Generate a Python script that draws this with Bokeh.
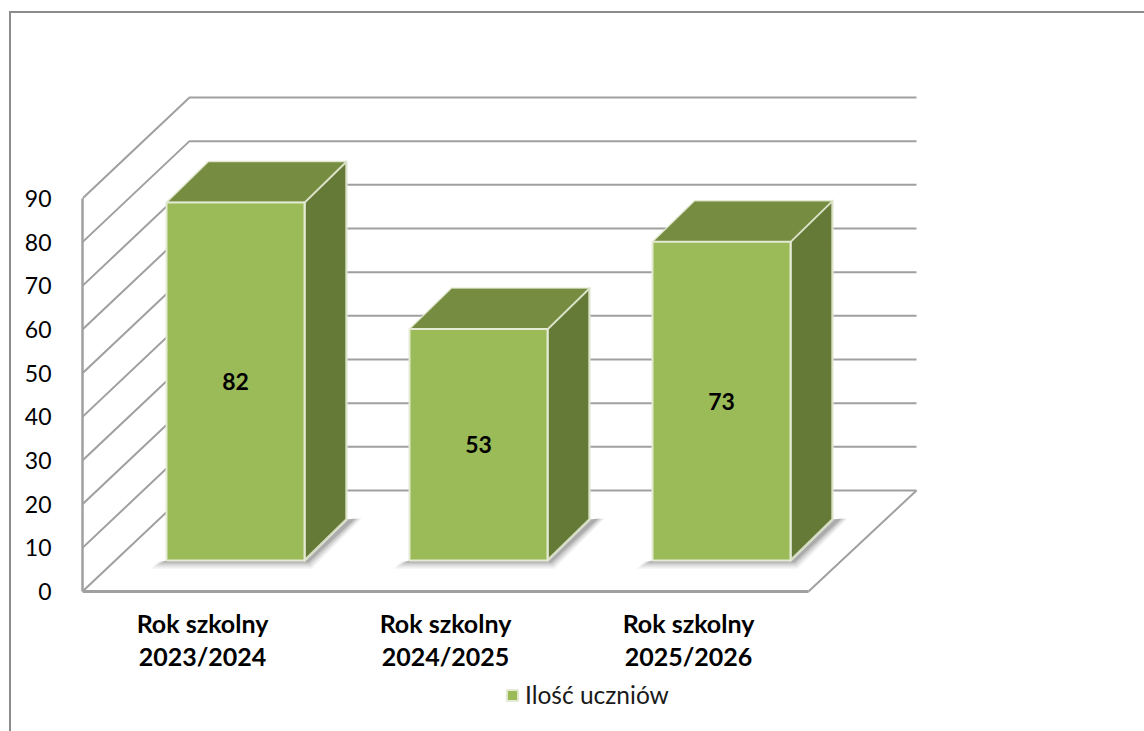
from bokeh.embed import file_html
from bokeh.resources import INLINE
from bokeh.plotting import figure
from bokeh.models import Range1d, FixedTicker, Legend, LegendItem
from bokeh.core.properties import value

# ---- data ----
categories = ["Rok szkolny\n2023/2024", "Rok szkolny\n2024/2025", "Rok szkolny\n2025/2026"]
positions = [1, 2, 3]
students = [82, 53, 73]
y_ticks = [0, 10, 20, 30, 40, 50, 60, 70, 80, 90]
series_name = "Ilość uczniów"

# ---- styling / layout ----
FONT = "Lato"
GRID = "#a0a0a0"
FRONT, TOP, SIDE = "#9bbb59", "#768d41", "#657a37"
EDGE = "#e4ead4"
PXX, PXY = 243.0, 4.367          # pixels per data unit
FRAME_L, FRAME_R, FRAME_T, FRAME_B = 82, 930, 60, 725
PAGE_X, PAGE_Y = 9, 11
BORDER_X, BORDER_Y = 2, 1
W, H = 1135, 720

fx = lambda px: 1 + (px - 202) / PXX     # horizontal pixel offset to data
fy = lambda px: (590 - px) / PXY

p = figure(width=W, height=H, output_backend="svg", toolbar_location=None,
           x_range=Range1d(fx(FRAME_L), fx(FRAME_R)), y_range=Range1d(fy(FRAME_B), fy(FRAME_T)),
           min_border_left=FRAME_L - PAGE_X - BORDER_X, min_border_right=PAGE_X + W - FRAME_R + BORDER_X,
           min_border_top=FRAME_T - PAGE_Y - BORDER_Y, min_border_bottom=PAGE_Y + H - FRAME_B + BORDER_Y,
           background_fill_color="white", border_fill_color="white", outline_line_color=None)
p.margin = (PAGE_Y, 0, 0, PAGE_X)
p.styles = {"border-left": "2px solid #8c8c8c", "border-top": "2px solid #8c8c8c", "box-sizing": "border-box"}
p.grid.visible = False

# axes
ax = p.yaxis[0]
ax.ticker = FixedTicker(ticks=y_ticks)
ax.bounds = (0, 90)
ax.axis_line_color = GRID
ax.axis_line_width = 2.5
ax.major_tick_line_color = None
ax.minor_tick_line_color = None
ax.major_label_text_font = FONT
ax.major_label_text_font_size = "23px"
ax.major_label_text_color = "black"
ax.major_label_standoff = 25

bx = p.xaxis[0]
bx.fixed_location = 0
bx.ticker = FixedTicker(ticks=positions)
bx.major_label_overrides = dict(zip(positions, categories))
bx.bounds = (fx(82), fx(808))
bx.axis_line_color = GRID
bx.axis_line_width = 3
bx.major_tick_line_color = None
bx.minor_tick_line_color = None
bx.major_label_text_font = FONT
bx.major_label_text_font_style = "bold"
bx.major_label_text_font_size = "25px"
bx.major_label_text_color = "black"
bx.major_label_text_line_height = 1.1
bx.major_label_standoff = 10

# walls and floor
wall_dx = fx(189) - fx(82)
wall_dy = fy(489) - fy(590)
xr = fx(916)
p.multi_line(xs=[[fx(82), fx(82) + wall_dx, xr] for _ in y_ticks],
             ys=[[t, t + wall_dy, t + wall_dy] for t in y_ticks],
             line_color=GRID, line_width=2)
p.line([fx(808), xr], [0, wall_dy], line_color=GRID, line_width=2)

# bars
cx_off = 33 / PXX
half = 69 / PXX
dep_x = 42 / PXX
dep_y = 41 / PXY
base = fy(559)
centers = [x + cx_off for x in positions]

# shadows
for grow, a in [(6, 0.10), (4, 0.14), (2, 0.2), (0, 0.3)]:
    shadow_xs, shadow_ys = [], []
    for c in centers:
        l, r = c - half, c + half
        gx, gy = grow / PXX, grow / PXY
        shadow_xs.append([l - 10 / PXX - gx, r + 4 / PXX + gx / 2, r + dep_x + 9 / PXX + gx, r + dep_x, r, l])
        shadow_ys.append([base - 2 / PXY - gy, base - 2 / PXY - gy, base + dep_y + 1 / PXY, base + dep_y, base, base])
    p.patches(shadow_xs, shadow_ys, fill_color="#6e6e6e", fill_alpha=a, line_color=None)

# side and top faces
side_xs = [[c + half, c + half + dep_x, c + half + dep_x, c + half] for c in centers]
side_ys = [[base, base + dep_y, base + v + dep_y, base + v] for v in students]
top_xs = [[c - half, c - half + dep_x, c + half + dep_x, c + half] for c in centers]
top_ys = [[base + v, base + v + dep_y, base + v + dep_y, base + v] for v in students]
p.patches(side_xs, side_ys, fill_color=SIDE, line_color=EDGE, line_width=2.5, line_alpha=0.85, line_join="round")
p.patches(top_xs, top_ys, fill_color=TOP, line_color=EDGE, line_width=1.5, line_alpha=0.85, line_join="round")
front = p.quad(left=[c - half for c in centers], right=[c + half for c in centers],
               bottom=[base] * len(students), top=[base + v for v in students],
               fill_color=FRONT, line_color=EDGE, line_width=2)

# value labels
p.text(x=centers, y=[base + v / 2 for v in students], text=[str(v) for v in students],
       text_font=value(FONT), text_font_style="bold", text_font_size="23px", text_color="black",
       text_align="center", text_baseline="middle")

legend = Legend(items=[LegendItem(label=series_name, renderers=[front])],
                location=(505 - FRAME_L, FRAME_B - 708), orientation="horizontal",
                background_fill_alpha=0, border_line_color=None,
                label_text_font=FONT, label_text_font_size="24.5px", label_text_color="#1a1a1a",
                glyph_width=14, glyph_height=14, padding=0, margin=0, label_standoff=6)
p.add_layout(legend, "center")

open("out.html", "w").write(file_html(p, INLINE))
